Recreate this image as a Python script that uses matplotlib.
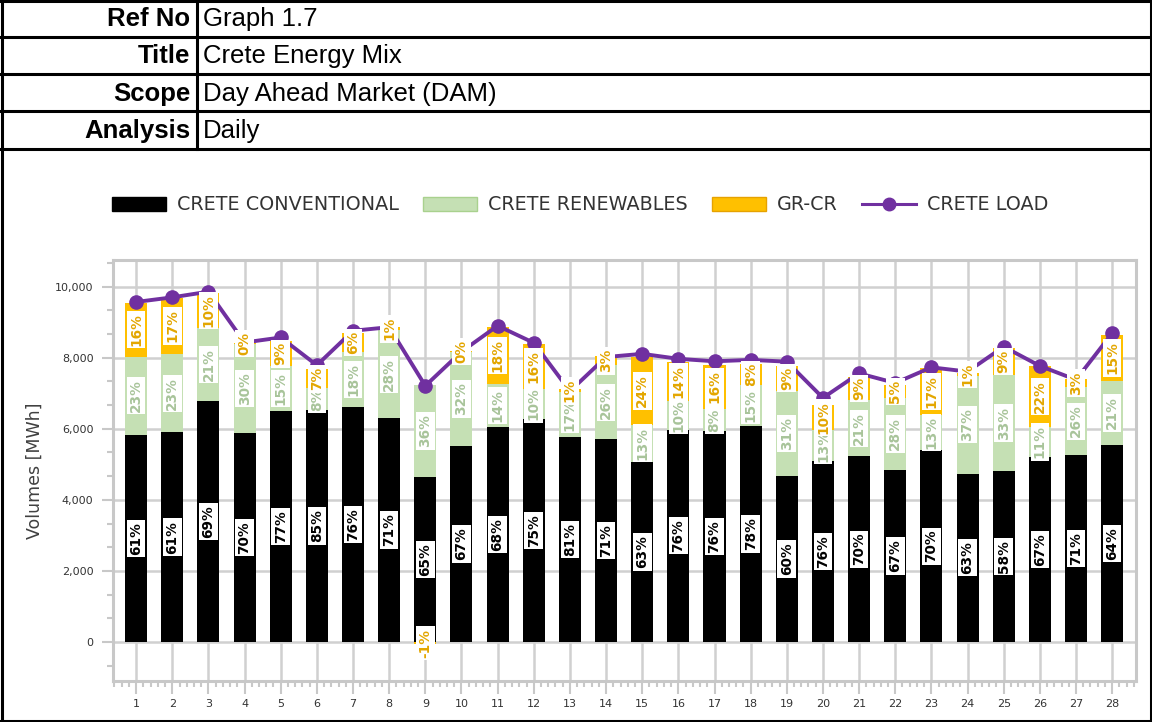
"""
Crete Energy Mix - stacked daily volumes with load line (DAM).
"""

import matplotlib.pyplot as plt
from matplotlib.lines import Line2D
from matplotlib.patches import Patch
from matplotlib.ticker import FixedLocator, MultipleLocator, StrMethodFormatter

W, H = 1152, 722

days = list(range(1, 29))
conventional = [5830, 5900, 6780, 5890, 6500, 6530, 6610, 6300, 4650, 5520,
                6040, 6270, 5780, 5700, 5070, 5980, 5930, 6080, 4670, 5080,
                5230, 4845, 5390, 4740, 4800, 5200, 5260, 5540]
renewables = [2200, 2200, 2060, 2500, 1260, 610, 1560, 2470, 2580, 2640,
              1230, 850, 1250, 2090, 1050, 800, 620, 1150, 2400, 900,
              1570, 2025, 1000, 2760, 2720, 860, 1910, 1810]
gr_cr = [1520, 1580, 980, 30, 700, 540, 520, 90, -70, 30,
         1590, 1270, 90, 250, 1890, 1110, 1250, 600, 700, 690,
         670, 363, 1310, 60, 746, 1710, 223, 1290]
load = [9570, 9700, 9860, 8430, 8570, 7790, 8760, 8860, 7210, 8170,
        8900, 8420, 7060, 8020, 8110, 7970, 7900, 7940, 7890, 6870,
        7560, 7290, 7730, 7610, 8310, 7770, 7380, 8690]

conv_pct = [61, 61, 69, 70, 77, 85, 76, 71, 65, 67, 68, 75, 81, 71,
            63, 76, 76, 78, 60, 76, 70, 67, 70, 63, 58, 67, 71, 64]
ren_pct = [23, 23, 21, 30, 15, 8, 18, 28, 36, 32, 14, 10, 17, 26,
           13, 10, 8, 15, 31, 13, 21, 28, 13, 37, 33, 11, 26, 21]
gr_pct = [16, 17, 10, 0, 9, 7, 6, 1, -1, 0, 18, 16, 1, 3,
          24, 14, 16, 8, 9, 10, 9, 5, 17, 1, 9, 22, 3, 15]

header_keys = ["Ref No", "Title", "Scope", "Analysis"]
header_vals = ["Graph 1.7", "Crete Energy Mix", "Day Ahead Market (DAM)", "Daily"]

C_CONV = "#000000"
C_REN = "#C5E0B4"
C_GR = "#FFC000"
C_LOAD = "#7030A0"
C_GRID = "#D0D0D0"


def fx(px):
    return px / W


def fy(py):
    return 1 - py / H


fig = plt.figure(figsize=(W / 100, H / 100), dpi=100)
fig.patch.set_facecolor("white")

# header table
for y in [37, 74, 111, 149]:
    fig.add_artist(Line2D([0, 1], [fy(y)] * 2, color="black", lw=2.2))
fig.add_artist(Line2D([fx(197)] * 2, [fy(0), fy(149)], color="black", lw=2.2))
for x in [1.5, 1150.5]:
    fig.add_artist(Line2D([fx(x)] * 2, [0, 1], color="black", lw=2.2))
for y in [1, 721]:
    fig.add_artist(Line2D([0, 1], [fy(y)] * 2, color="black", lw=2.2))

for i, (k, v) in enumerate(zip(header_keys, header_vals)):
    yc = fy(19 + i * 37.3)
    fig.text(fx(190), yc, k, ha="right", va="center", fontsize=18.5,
             fontweight="bold", family="Liberation Sans")
    fig.text(fx(203), yc, v, ha="left", va="center", fontsize=18.5,
             family="Liberation Sans")

# chart
ax = fig.add_axes([fx(113), fy(681), fx(1136) - fx(113), fy(260) - fy(681)])
width = 0.61
ax.bar(days, conventional, width, color=C_CONV, zorder=2)
ax.bar(days, renewables, width, bottom=conventional, color=C_REN, zorder=2)
gr_bottom = [c + r if g >= 0 else 0 for c, r, g in zip(conventional, renewables, gr_cr)]
ax.bar(days, gr_cr, width, bottom=gr_bottom, color=C_GR, zorder=2)
ax.plot(days, load, color=C_LOAD, lw=2.8, marker="o", ms=9.5, zorder=4)

box = dict(boxstyle="square,pad=0.17", fc="white", ec="none")
for i, d in enumerate(days):
    c, r, g = conventional[i], renewables[i], gr_cr[i]
    ax.text(d, c / 2, f"{conv_pct[i]}%", rotation=90, ha="center", va="center",
            fontsize=9.8, fontweight="bold", color="black", bbox=box, zorder=5)
    ax.text(d, c + r / 2, f"{ren_pct[i]}%", rotation=90, ha="center", va="center",
            fontsize=9.8, fontweight="bold", color="#A8C49A", bbox=box, zorder=6)
    ax.text(d, gr_bottom[i] + g / 2, f"{gr_pct[i]}%", rotation=90, ha="center",
            va="center", fontsize=9.8, fontweight="bold", color="#E3A600",
            bbox=box, zorder=7)

ax.set_xlim(0.36, 28.66)
ax.set_ylim(-1098, 10751)
ax.xaxis.set_major_locator(FixedLocator(days))
ax.xaxis.set_minor_locator(MultipleLocator(0.2))
ax.yaxis.set_major_locator(MultipleLocator(2000))
ax.yaxis.set_minor_locator(MultipleLocator(2000 / 3))
ax.yaxis.set_major_formatter(StrMethodFormatter("{x:,.0f}"))
ax.grid(True, which="major", color=C_GRID, lw=1.8)
ax.set_axisbelow(True)
for s in ax.spines.values():
    s.set_color("#C8C8C8")
    s.set_linewidth(2.2)
ax.tick_params(axis="both", which="both", color="#C8C8C8", width=1.5)
ax.tick_params(axis="y", which="major", length=8, labelsize=8,
               labelcolor="#333333", pad=6)
ax.tick_params(axis="y", which="minor", length=4)
ax.tick_params(axis="x", which="major", length=9, labelsize=8,
               labelcolor="#333333", pad=4)
ax.tick_params(axis="x", which="minor", length=4)
ax.set_ylabel("Volumes [MWh]", fontsize=12.5, color="#404040", labelpad=8)

handles = [
    Patch(fc=C_CONV, ec="#000000"),
    Patch(fc=C_REN, ec="#A9D18E"),
    Patch(fc=C_GR, ec="#E6A200"),
    Line2D([], [], color=C_LOAD, lw=2.2, marker="o", ms=9),
]
names = ["CRETE CONVENTIONAL", "CRETE RENEWABLES", "GR-CR", "CRETE LOAD"]
leg = fig.legend(handles, names, loc="center", bbox_to_anchor=(fx(580), fy(205)),
                 ncol=4, frameon=False, fontsize=13.8, handlelength=2.85,
                 handleheight=0.8, handletextpad=0.55, columnspacing=1.25)
for t in leg.get_texts():
    t.set_color("#333333")

fig.savefig("out.png", dpi=100)
